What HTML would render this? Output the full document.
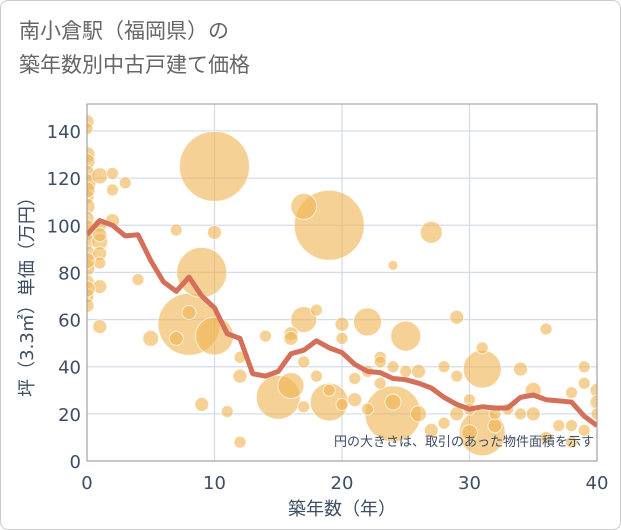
<!DOCTYPE html>
<html><head><meta charset="utf-8"><style>
body{margin:0;background:#fff;}
#wrap{position:relative;width:619px;height:528px;border:1px solid #ccc;border-radius:8px;overflow:hidden;background:#fff;font-family:"DejaVu Sans","Noto Sans CJK JP",sans-serif;}
#title{position:absolute;left:18px;top:13px;font-size:21px;line-height:34px;color:#666;}
svg{position:absolute;left:0;top:0;}
</style></head><body>
<div id="wrap">
<div id="title">南小倉駅（福岡県）の<br>築年数別中古戸建て価格</div>
<svg id="chart" width="621" height="530"></svg>
</div>
<script>
const xTicks=[0,10,20,30,40];
const yTicks=[0,20,40,60,80,100,120,140];
const trendYears=[0,1,2,3,4,5,6,7,8,9,10,11,12,13,14,15,16,17,18,19,20,21,22,23,24,25,26,27,28,29,30,31,32,33,34,35,36,37,38,39,40];
const trendValues=[96,102,100,95.5,96,85,76,72,78,70,65,54,52,37,36,38,45.5,47,51,48,46,41,38,37.5,35,34.5,33,31,27,24,22,23,22.5,22.5,27,28,26,25.5,25,19,15];
const bubbleX=[10,19,8,9,10,15,24,31,19,31,25,27,22,17,17,16,0,0,0,0,0,0,0,0,0,0,0,0,0,0,0,0,1,1,1,1,1,1,1,2,2,2,3,4,5,7,7,8,9,10,11,12,12,12,14,16,16,17,17,18,18,19,20,20,20,21,22,22,23,23,24,24,24,25,26,26,28,28,29,29,29,30,30,31,32,33,34,34,35,35,36,37,38,38,39,39,39,40,40,40,21,23,27,30,32,36,38,0,0,0,0,1];
const bubbleY=[125,100,58,80,53,27,20,12,25,39,53,97,59,60,108,32,144,141,130,127,122,118,112,108,103,97,93,88,82,76,70,66,57,121,100,93,88,84,74,122,115,102,118,77,52,98,52,63,24,97,21,44,36,8,53,54,52,42,23,64,36,30,58,52,24,26,38,22,44,33,83,40,25,38,20,38,40,16,61,36,20,12,26,48,15,22,39,20,30,20,56,15,15,29,40,33,13,30,25,20,35,42,13,22,20,10,8,115,99,85,73,96];
const bubbleR=[35,35,31,25,19,22,28,23,19,19,15,11,14,13,13,13,7,6,8,8,8,9,7,8,7,8,8,8,8,7,7,7,7,8,7,8,7,6,7,6,6,7,6,6,8,6,7,7,7,7,6,6,7,6,6,7,7,6,6,6,6,6,7,6,6,7,6,6,6,6,5,6,8,6,8,7,6,6,7,6,7,8,6,6,7,6,7,6,8,7,6,6,6,6,6,6,6,7,7,6,6,6,7,6,6,6,6,8,8,8,8,7];
const NS="http://www.w3.org/2000/svg";
const svg=document.getElementById('chart');
const L=86,R=596,T=103,B=460;
const xs=v=>L+(v-0)/40*(R-L);
const ys=v=>B-v/140*(B-130);
function mk(tag,attrs,parent){const e=document.createElementNS(NS,tag);for(const k in attrs)e.setAttribute(k,attrs[k]);(parent||svg).appendChild(e);return e;}
const grid=mk('g',{});


yTicks.forEach(t=>{const l=mk('line',{x1:L,x2:R,y1:ys(t),y2:ys(t),stroke:'#d3dde8','stroke-width':1.3},grid);


const tx=mk('text',{x:L-6,y:ys(t)+7,'text-anchor':'end','font-size':18,fill:'#3d4d63'});tx.textContent=t;

});
xTicks.forEach(t=>{const l=mk('line',{x1:xs(t),x2:xs(t),y1:T,y2:B,stroke:'#d3dde8','stroke-width':1.3},grid);


const tx=mk('text',{x:xs(t),y:B+28,'text-anchor':'middle','font-size':18,fill:'#3d4d63'});tx.textContent=t;

});
const bg=mk('g',{});


bubbleX.forEach((x,i)=>{const c=mk('circle',{cx:xs(x),cy:ys(bubbleY[i]),r:bubbleR[i],fill:'rgba(240,178,80,0.6)',stroke:'rgba(255,255,255,0.7)','stroke-width':1},bg);

});
const cp=mk('clipPath',{id:'cp'});mk('rect',{x:L,y:T,width:R-L,height:B-T},cp);
bg.setAttribute('clip-path','url(#cp)');
const pl=mk('polyline',{points:trendYears.map((x,i)=>xs(x)+','+ys(trendValues[i])).join(' '),fill:'none',stroke:'#d4705a','stroke-width':5,'stroke-linejoin':'round','clip-path':'url(#cp)'});


const fr=mk('rect',{x:L,y:T,width:R-L,height:B-T,fill:'none',stroke:'#999','stroke-width':1});


const note=mk('text',{x:R-3,y:445,'text-anchor':'end','font-size':13,fill:'#3d4d63'});note.textContent='円の大きさは、取引のあった物件面積を示す';


const xt=mk('text',{x:xs(20),y:514,'text-anchor':'middle','font-size':18,fill:'#3d4d63'});xt.textContent='築年数（年）';


const yt=mk('text',{x:0,y:0,'text-anchor':'middle','font-size':18,fill:'#3d4d63',transform:'translate(32,'+((T+B)/2+10)+') rotate(-90)'});yt.textContent='坪（3.3㎡）単価（万円）';


</script>
</body></html>
